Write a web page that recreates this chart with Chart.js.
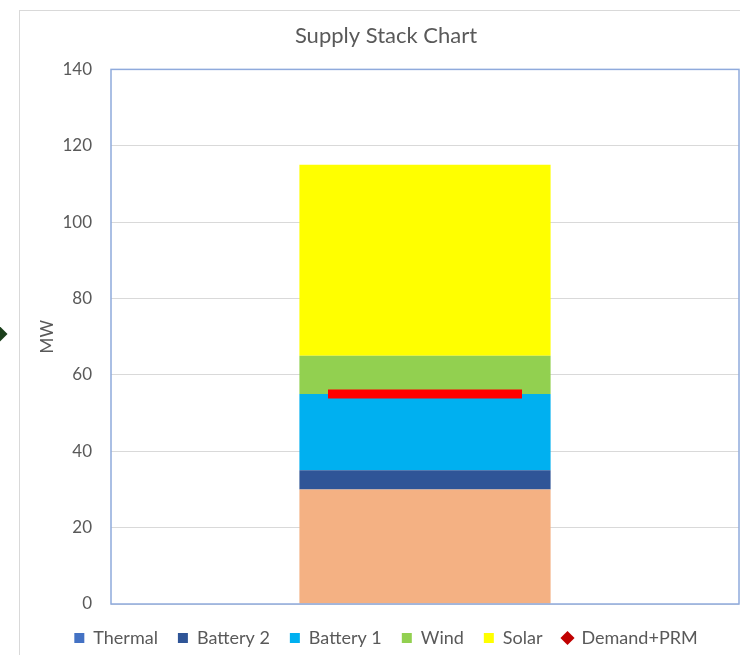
<!DOCTYPE html>
<html>
<head>
<meta charset="utf-8">
<script src="https://cdn.jsdelivr.net/npm/chart.js@4"></script>
<style>
    html, body { margin: 0; padding: 0; background: #fff; }
    body { width: 740px; height: 655px; position: relative; overflow: hidden; }
    #frame { position: absolute; left: 19px; top: 10px; width: 800px; height: 700px; border: 1px solid #d9d9d9; }
    #handle { position: absolute; left: -7px; top: 328px; width: 12px; height: 12px; background: #1b3f1b; transform: rotate(45deg); }
    #wrap { position: absolute; left: 0; top: 0; width: 772px; height: 655px; }
</style>
</head>
<body>
<div id="frame"></div>
<div id="handle"></div>
<div id="wrap"><canvas id="supplyChart" width="772" height="655"></canvas></div>
<script>
// values (MW)
const categories = [''];
const thermal = [30];
const battery2 = [5];
const battery1 = [20];
const wind = [10];
const solar = [50];
const demandPrm = [55];
const yTicks = [0, 20, 40, 60, 80, 100, 120, 140];

const fontFamily = 'Lato, "Open Sans", sans-serif';
const textColor = '#595959';

// Excel shows a different swatch for Thermal in the legend
const legendColors = ['#4472c4', '#2f5597', '#00b0f0', '#92d050', '#ffff00', '#c00000'];

const plotFrame = {
    id: 'plotFrame',
    afterDatasetsDraw(chart) {
        const { ctx, chartArea } = chart;
        ctx.save();
        ctx.strokeStyle = '#8faadc';
        ctx.lineWidth = 1.5;
        ctx.strokeRect(chartArea.left, chartArea.top, chartArea.right - chartArea.left, chartArea.bottom - chartArea.top);
        ctx.restore();
    },
};

function barSet(label, data, color) {
    return {
        label,
        data,
        backgroundColor: color,
        borderWidth: 0,
        barPercentage: 0.4,
        categoryPercentage: 1,
        stack: 'supply',
    };
}

const ctx = document.getElementById('supplyChart');
new Chart(ctx, {
    type: 'bar',
    data: {
        labels: categories,
        datasets: [
            barSet('Thermal', thermal, '#f4b183'),
            barSet('Battery 2', battery2, '#2f5597'),
            barSet('Battery 1', battery1, '#00b0f0'),
            barSet('Wind', wind, '#92d050'),
            barSet('Solar', solar, '#ffff00'),
            {
                type: 'line',
                label: 'Demand+PRM',
                data: demandPrm,
                stack: 'demand',
                showLine: false,
                pointStyle: 'line',
                pointRadius: 97,
                pointHoverRadius: 97,
                pointBorderWidth: 9,
                pointHoverBorderWidth: 9,
                borderColor: '#ff0000',
                backgroundColor: '#ff0000',
                order: -1,
            },
        ],
    },
    options: {
        responsive: false,
        animation: false,
        events: [],
        layout: { autoPadding: false, padding: { left: 0, right: 0, top: 0, bottom: -2 } },
        plugins: {
            title: {
                display: true,
                text: 'Supply Stack Chart',
                color: textColor,
                font: { family: fontFamily, size: 22, weight: 'normal' },
                padding: { top: 23, bottom: 20 },
            },
            legend: {
                position: 'bottom',
                labels: {
                    usePointStyle: true,
                    boxWidth: 10,
                    boxHeight: 10,
                    padding: 20,
                    color: textColor,
                    font: { family: fontFamily, size: 18 },
                    generateLabels(chart) {
                        return chart.data.datasets.map((ds, i) => ({
                            text: ds.label,
                            fillStyle: legendColors[i],
                            strokeStyle: legendColors[i],
                            lineWidth: 0,
                            pointStyle: i === 5 ? 'rectRot' : 'rect',
                            fontColor: textColor,
                            datasetIndex: i,
                            hidden: false,
                        }));
                    },
                },
            },
            tooltip: { enabled: false },
        },
        scales: {
            x: {
                stacked: true,
                ticks: { display: false },
                grid: { display: false },
                border: { display: false },
                afterFit(scale) {
                    scale.height = 5;
                },
            },
            y: {
                stacked: true,
                min: 0,
                max: 140,
                afterBuildTicks(scale) {
                    scale.ticks = yTicks.map((v) => ({ value: v }));
                },
                afterFit(scale) {
                    scale.width = 111;
                },
                ticks: {
                    color: textColor,
                    padding: 19,
                    font: { family: fontFamily, size: 17 },
                },
                grid: { color: '#d9d9d9', lineWidth: 1, drawTicks: false },
                border: { display: false },
                title: {
                    display: true,
                    text: 'MW',
                    color: textColor,
                    font: { family: fontFamily, size: 17 },
                    padding: { top: 37, bottom: 0 },
                },
            },
            // empty spacer so the plot ends at the window edge while title/legend stay centred on the full frame
            yRight: {
                type: 'linear',
                position: 'right',
                min: 0,
                max: 140,
                ticks: { display: false },
                grid: { display: false },
                border: { display: false },
                afterFit(scale) {
                    scale.width = 33;
                },
            },
        },
    },
    plugins: [plotFrame],
});
</script>
</body>
</html>
